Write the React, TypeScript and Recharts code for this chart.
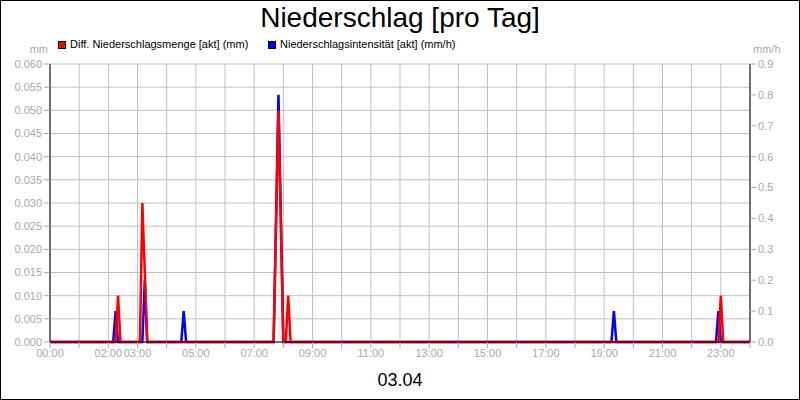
import { LineChart, Line, XAxis, YAxis, CartesianGrid } from "recharts";

const FONT = '"Liberation Sans", Arial, Helvetica, sans-serif';
const GREY = "#a8a8a8";
const RED = "#ff0000";
const BLUE = "#0000ff";

// time in minutes since 00:00 (03.04)
const mengeTimes = [0, 135, 140, 145, 185, 190, 200, 460, 470, 480, 485, 490, 495, 1375, 1380, 1385, 1440];
const mengeValues = [0, 0, 0.01, 0, 0, 0.03, 0, 0, 0.05, 0, 0, 0.01, 0, 0, 0.01, 0, 0];

const intensTimes = [0, 130, 135, 140, 190, 195, 200, 270, 275, 280, 460, 470, 480, 1155, 1160, 1165, 1370, 1375, 1380, 1440];
const intensValues = [0, 0, 0.1, 0, 0, 0.2, 0, 0, 0.1, 0, 0, 0.8, 0, 0, 0.1, 0, 0, 0.1, 0, 0];

const hourTicks = [0, 60, 120, 180, 240, 300, 360, 420, 480, 540, 600, 660, 720, 780, 840, 900, 960, 1020, 1080, 1140, 1200, 1260, 1320, 1380, 1440];
const hourLabels = ["00:00", "", "02:00", "03:00", "", "05:00", "", "07:00", "", "09:00", "", "11:00", "", "13:00", "", "15:00", "", "17:00", "", "19:00", "", "21:00", "", "23:00", ""];

const mmTicks = [0, 0.005, 0.01, 0.015, 0.02, 0.025, 0.03, 0.035, 0.04, 0.045, 0.05, 0.055, 0.06];
const mmhTicks = [0, 0.1, 0.2, 0.3, 0.4, 0.5, 0.6, 0.7, 0.8, 0.9];

const mengeData = mengeTimes.map((t, i) => ({ t, v: mengeValues[i] }));
const intensData = intensTimes.map((t, i) => ({ t, v: intensValues[i] }));

const tickStyle = { fill: GREY, fontSize: 11 };

export default function App() {
  return (
    <div
      style={{
        position: "absolute",
        left: 0,
        top: 0,
        width: 800,
        height: 400,
        background: "#fff",
        fontFamily: FONT,
      }}
    >
      <LineChart
        width={800}
        height={400}
        margin={{ top: 64, right: 0, bottom: 38, left: 0 }}
      >
        <CartesianGrid yAxisId="l" stroke="#c0c0c0" />
        <XAxis
          dataKey="t"
          type="number"
          domain={[0, 1440]}
          ticks={hourTicks}
          interval={0}
          height={20}
          tickFormatter={(v: number) => hourLabels[hourTicks.indexOf(v)] ?? ""}
          tick={tickStyle}
          tickSize={6}
          tickMargin={1}
          axisLine={{ stroke: "#000" }}
          tickLine={{ stroke: GREY }}
        />
        <XAxis
          xAxisId="top"
          orientation="top"
          type="number"
          domain={[0, 1440]}
          height={0}
          tick={false}
          tickLine={false}
          axisLine={{ stroke: "#000" }}
        />
        <YAxis
          yAxisId="l"
          domain={[0, 0.06]}
          ticks={mmTicks}
          interval={0}
          width={50}
          tickFormatter={(v: number) => v.toFixed(3)}
          tick={tickStyle}
          tickSize={6}
          tickMargin={2}
          axisLine={{ stroke: "#000" }}
          tickLine={{ stroke: GREY }}
        />
        <YAxis
          yAxisId="r"
          orientation="right"
          domain={[0, 0.9]}
          ticks={mmhTicks}
          interval={0}
          width={50}
          tickFormatter={(v: number) => v.toFixed(1)}
          tick={tickStyle}
          tickSize={6}
          tickMargin={2}
          axisLine={{ stroke: "#000" }}
          tickLine={{ stroke: GREY }}
        />
        <Line
          data={intensData}
          yAxisId="r"
          dataKey="v"
          type="linear"
          stroke={BLUE}
          strokeWidth={2.5}
          dot={false}
          isAnimationActive={false}
        />
        <Line
          data={mengeData}
          yAxisId="l"
          dataKey="v"
          type="linear"
          stroke={RED}
          strokeWidth={2.5}
          dot={false}
          isAnimationActive={false}
        />
      </LineChart>

      {/* title */}
      <div
        style={{
          position: "absolute",
          left: 0,
          top: 2,
          width: 800,
          textAlign: "center",
          fontSize: 28,
          lineHeight: "32px",
          color: "#000",
        }}
      >
        Niederschlag [pro Tag]
      </div>

      {/* legend */}
      <div style={{ position: "absolute", left: 58, top: 41, width: 8, height: 8, background: RED, border: "1px solid #000", boxSizing: "border-box" }} />
      <div style={{ position: "absolute", left: 70, top: 38, fontSize: 11, lineHeight: "13px", color: "#000", whiteSpace: "nowrap" }}>
        Diff. Niederschlagsmenge [akt] (mm)
      </div>
      <div style={{ position: "absolute", left: 268, top: 41, width: 8, height: 8, background: BLUE, border: "1px solid #000", boxSizing: "border-box" }} />
      <div style={{ position: "absolute", left: 280, top: 38, fontSize: 11, lineHeight: "13px", color: "#000", whiteSpace: "nowrap" }}>
        Niederschlagsintensität [akt] (mm/h)
      </div>

      {/* axis units */}
      <div style={{ position: "absolute", right: 752, top: 43, fontSize: 11, lineHeight: "13px", color: GREY }}>mm</div>
      <div style={{ position: "absolute", left: 753, top: 43, fontSize: 11, lineHeight: "13px", color: GREY }}>mm/h</div>

      {/* date */}
      <div
        style={{
          position: "absolute",
          left: 0,
          top: 369,
          width: 800,
          textAlign: "center",
          fontSize: 18,
          lineHeight: "22px",
          color: "#000",
        }}
      >
        03.04
      </div>

      {/* frame */}
      <div
        style={{
          position: "absolute",
          left: 0,
          top: 0,
          width: 800,
          height: 400,
          border: "1px solid #000",
          boxSizing: "border-box",
          pointerEvents: "none",
        }}
      />
    </div>
  );
}
